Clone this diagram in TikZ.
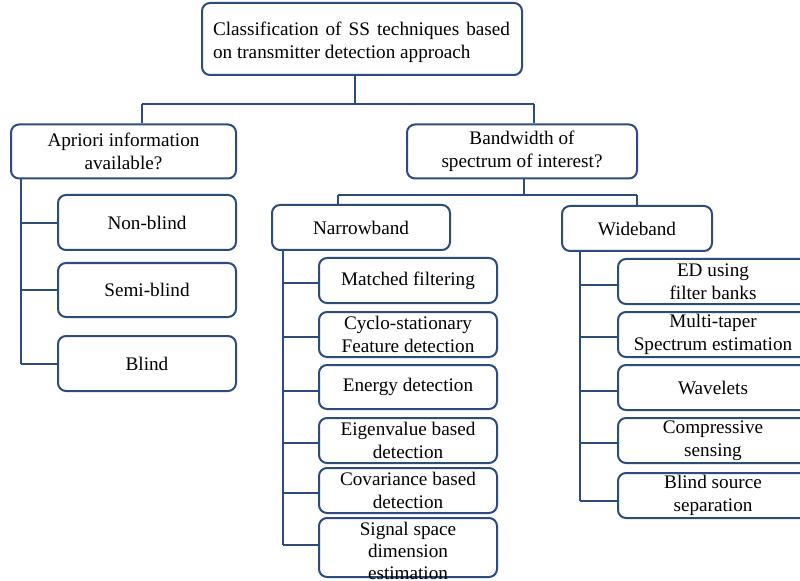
\documentclass[tikz,border=0pt]{standalone}
\usepackage{fontspec}
\setmainfont{Liberation Serif}
\definecolor{navy}{RGB}{44,76,124}
\hyphenpenalty=10000
\begin{document}
\begin{tikzpicture}[x=0.75pt,y=-0.75pt,
  box/.style 2 args={draw=navy,line width=1.5pt,rounded corners=6pt,fill=white,
    inner sep=0pt,align=center,minimum width=#1*0.75pt,minimum height=#2*0.75pt,
    font=\fontsize{14.4pt}{17.25pt}\selectfont},
  lbl/.style={inner sep=0pt,align=center,font=\fontsize{14.4pt}{16.5pt}\selectfont},
  ln/.style={draw=navy,line width=1.5pt}]
\clip (0,0) rectangle (800,581);

% top level
\node[box={320}{72}] (root) at (362,39) {};
\node[inner sep=0pt,text width=222.75pt,align=justify,
  font=\fontsize{14.4pt}{17.25pt}\selectfont] (roott) at (361.5,42)
  {Classification of SS techniques based on transmitter detection approach};
\node[box={225}{54}] (apr) at (123.5,151.5) {Apriori information\\available?};
\node[box={230}{54}] (bw) at (522,151.5) {Bandwidth of\\spectrum of interest?};

% a-priori information branch
\node[box={178}{55}] (nb) at (147,222.5) {Non-blind};
\node[box={178}{54}] (sb) at (147,290) {Semi-blind};
\node[box={178}{55}] (bl) at (147,363.5) {Blind};

% bandwidth branch
\node[box={178}{45}] (narrow) at (361,227.5) {Narrowband};
\node[box={150}{45}] (wide) at (637,228.5) {Wideband};

% narrowband techniques
\node[box={178}{45}] (mf) at (408,280.5) {Matched filtering};
\node[box={178}{45}] (cy) at (408,334.5) {Cyclo-stationary\\Feature detection};
\node[box={178}{44}] (en) at (408,387) {Energy detection};
\node[box={178}{45}] (eig) at (408,440.5) {Eigenvalue based\\detection};
\node[box={178}{45}] (cov) at (408,490.5) {Covariance based\\detection};
\node[box={178}{59}] (sig) at (408,547.5) {};
\node[lbl] (sigt) at (408,551) {Signal space\\dimension\\estimation};

% wideband techniques
\node[box={190}{45}] (edf) at (713,281.5) {ED using\\filter banks};
\node[box={190}{45}] (mt) at (713,334.5) {Multi-taper\\Spectrum estimation};
\node[box={190}{45}] (wv) at (713,387.5) {Wavelets};
\node[box={190}{45}] (cs) at (713,440.5) {Compressive\\sensing};
\node[box={190}{45}] (bss) at (713,495.5) {Blind source\\separation};

% tree from the root
\coordinate (t0) at (355,104);
\coordinate (ta) at (142,104);
\coordinate (tb) at (534,104);
\draw[ln] (root.south -| t0) -- (t0);
\draw[ln] (ta) -- (tb);
\draw[ln] (ta) -- (apr.north -| ta);
\draw[ln] (tb) -- (bw.north -| tb);

% tree from the bandwidth question
\coordinate (u0) at (524,195);
\coordinate (ua) at (338,195);
\coordinate (ub) at (637,195);
\draw[ln] (bw.south -| u0) -- (u0);
\draw[ln] (ua) -- (ub);
\draw[ln] (ua) -- (narrow.north -| ua);
\draw[ln] (ub) -- (wide.north -| ub);

% spine under the a-priori question
\coordinate (a1) at (21,223);
\coordinate (a2) at (21,290);
\coordinate (a3) at (21,363.5);
\draw[ln] (apr.south -| a1) -- (a3);
\draw[ln] (a1) -- (a1 -| nb.west);
\draw[ln] (a2) -- (a2 -| sb.west);
\draw[ln] (a3) -- (a3 -| bl.west);

% spine under narrowband
\coordinate (n1) at (283,283);
\coordinate (n2) at (283,337);
\coordinate (n3) at (283,391);
\coordinate (n4) at (283,443);
\coordinate (n5) at (283,493);
\coordinate (n6) at (283,545);
\draw[ln] (narrow.south -| n1) -- (n6);
\draw[ln] (n1) -- (n1 -| mf.west);
\draw[ln] (n2) -- (n2 -| cy.west);
\draw[ln] (n3) -- (n3 -| en.west);
\draw[ln] (n4) -- (n4 -| eig.west);
\draw[ln] (n5) -- (n5 -| cov.west);
\draw[ln] (n6) -- (n6 -| sig.west);

% spine under wideband
\coordinate (w1) at (580,285);
\coordinate (w2) at (580,337);
\coordinate (w3) at (580,391);
\coordinate (w4) at (580,443);
\coordinate (w5) at (580,501);
\draw[ln] (wide.south -| w1) -- (w5);
\draw[ln] (w1) -- (w1 -| edf.west);
\draw[ln] (w2) -- (w2 -| mt.west);
\draw[ln] (w3) -- (w3 -| wv.west);
\draw[ln] (w4) -- (w4 -| cs.west);
\draw[ln] (w5) -- (w5 -| bss.west);
\end{tikzpicture}
\end{document}
